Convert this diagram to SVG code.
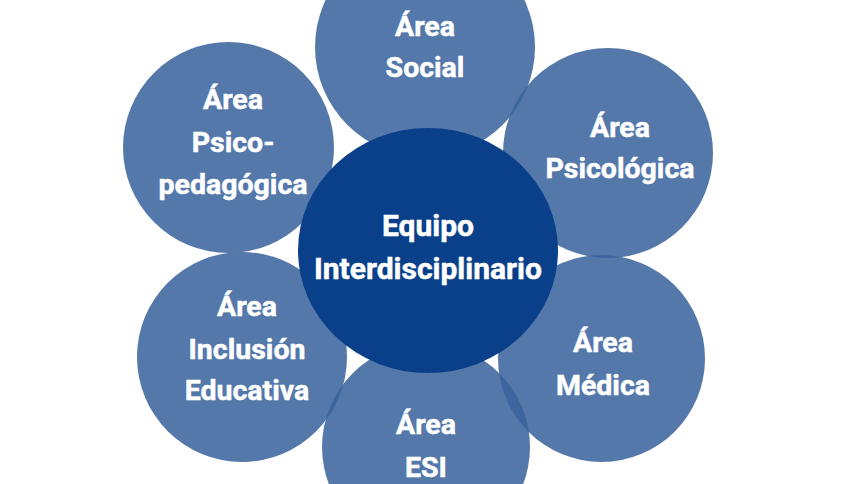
<svg xmlns="http://www.w3.org/2000/svg" width="856" height="484" viewBox="0 0 856 484">
<style>
.area{fill:#3a639d;fill-opacity:0.865}
.core{fill:#0a3f8a}
text{font-family:Roboto,"Liberation Sans",sans-serif;font-weight:bold;font-size:28.5px;fill:#ffffff;stroke:#ffffff;stroke-width:0.5;text-anchor:middle}
.big{font-size:30px}
</style>
<rect width="856" height="484" fill="#ffffff"/>
<g id="connectors"></g>
<g id="social"><circle class="area" cx="425" cy="47" r="110"/><text x="425" y="36">Área</text><text x="425" y="77">Social</text></g>
<g id="psicologica"><circle class="area" cx="608" cy="153" r="105"/><text x="620" y="137">Área</text><text x="620" y="178">Psicológica</text></g>
<g id="medica"><circle class="area" cx="601.5" cy="358.5" r="103.5"/><text x="603" y="352">Área</text><text x="603" y="395">Médica</text></g>
<g id="esi"><circle class="area" cx="426" cy="447" r="104"/><text x="426" y="434">Área</text><text x="426" y="477">ESI</text></g>
<g id="inclusion"><circle class="area" cx="242" cy="357" r="105"/><text x="247" y="316">Área</text><text x="247" y="359">Inclusión</text><text x="247" y="400">Educativa</text></g>
<g id="psicopedagogica"><circle class="area" cx="228.5" cy="147.5" r="105.5"/><text x="233" y="109">Área</text><text x="233" y="152">Psico-</text><text x="233" y="194">pedagógica</text></g>
<g id="equipo"><ellipse class="core" cx="428" cy="250.5" rx="130" ry="122.5"/><text class="big" x="428" y="236">Equipo</text><text class="big" x="428" y="279">Interdisciplinario</text></g>
</svg>
